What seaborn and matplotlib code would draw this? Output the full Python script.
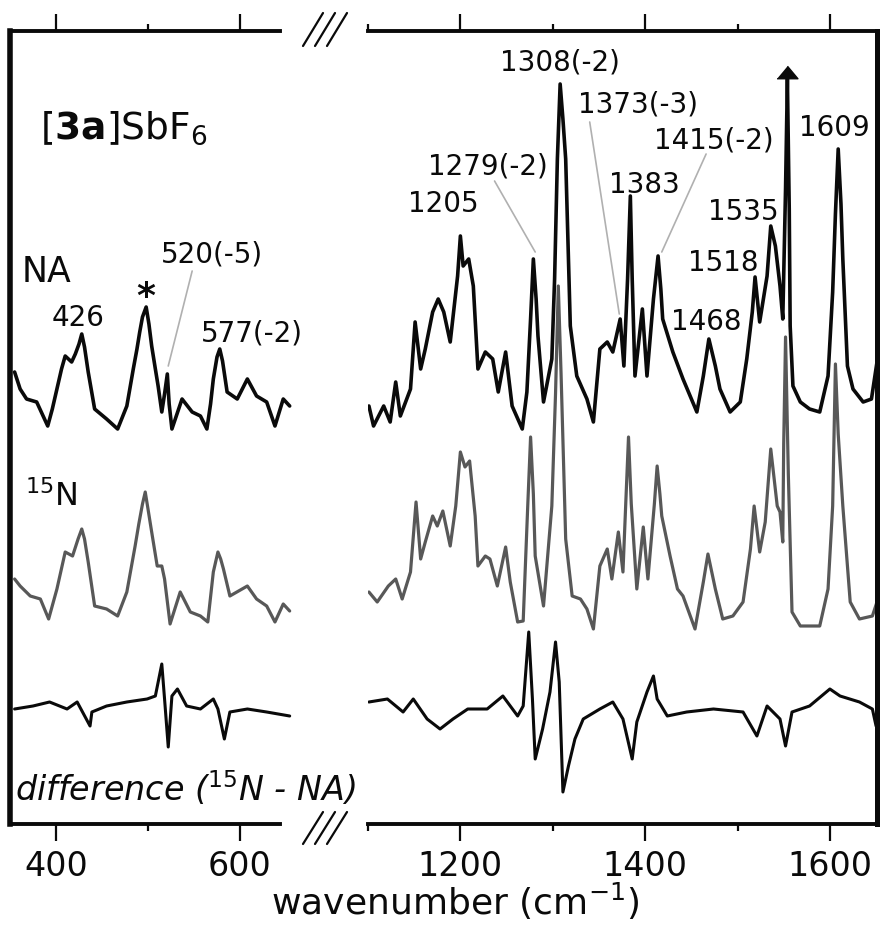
import numpy as np
import pandas as pd
import seaborn as sns
import matplotlib.pyplot as plt
from matplotlib.lines import Line2D

sns.set_style('white')
plt.rcParams['font.family'] = ['DejaVu Sans']
plt.rcParams['mathtext.fontset'] = 'dejavusans'

# ---- spectra (wavenumber / cm-1, intensity above baseline) ----
# low-frequency window
na_lo_x = [355, 361, 368, 379, 391, 396, 401, 406, 410, 417, 421, 425, 428, 431, 435, 442,
           455, 467, 477, 484, 488, 491, 494, 498, 501, 504, 508, 511, 515, 518, 521, 523,
           526, 537, 548, 557, 564, 568, 571, 575, 578, 581, 586, 597, 608, 618, 629, 638,
           647, 654]
na_lo_y = [57, 40, 30, 27, 3, 20, 40, 60, 73, 67, 75, 85, 95, 82, 57, 20,
           10, 0, 23, 60, 80, 97, 112, 122, 105, 83, 60, 43, 17, 35, 55, 25,
           0, 30, 17, 13, 0, 25, 50, 72, 80, 68, 37, 30, 50, 33, 27, 3,
           30, 23]

n15_lo_x = [355, 361, 372, 383, 392, 401, 410, 418, 424, 428, 431, 435, 442, 455, 467, 477,
            486, 490, 494, 497, 500, 504, 510, 515, 518, 524, 535, 546, 557, 565, 571, 576,
            579, 582, 589, 608, 618, 629, 638, 647, 654]
n15_lo_y = [45, 38, 28, 25, 5, 35, 72, 68, 85, 95, 85, 62, 18, 15, 8, 32,
            78, 100, 120, 132, 115, 92, 58, 58, 45, 0, 32, 12, 8, 2, 52, 72,
            65, 55, 28, 38, 25, 18, 2, 20, 13]

diff_lo_x = [355, 375, 393, 412, 423, 437, 439, 455, 477, 499, 508, 515, 518, 522, 526, 532,
             542, 557, 571, 576, 583, 589, 608, 629, 654]
diff_lo_y = [3, 6, 10, 3, 10, -14, 0, 6, 10, 13, 16, 48, 13, -35, 16, 23,
             6, 3, 13, 3, -27, 0, 3, 0, -4]

# high-frequency window
na_hi_x = [1101, 1106, 1117, 1124, 1130, 1135, 1146, 1151, 1157, 1162, 1170, 1176, 1182, 1189,
           1197, 1200, 1203, 1209, 1214, 1219, 1227, 1235, 1241, 1249, 1256, 1267, 1272, 1276,
           1279, 1282, 1284, 1290, 1299, 1302, 1305, 1308, 1311, 1314, 1319, 1326, 1337, 1344,
           1351, 1359, 1365, 1373, 1377, 1381, 1384, 1386, 1389, 1397, 1402, 1409, 1414, 1417,
           1419, 1430, 1441, 1456, 1463, 1469, 1476, 1481, 1492, 1503, 1510, 1516, 1519, 1524,
           1532, 1536, 1541, 1546, 1549, 1552, 1554, 1556, 1557, 1560, 1568, 1578, 1589, 1598,
           1603, 1606, 1609, 1612, 1614, 1619, 1625, 1636, 1645, 1651]
na_hi_y = [23, 3, 23, 7, 47, 13, 40, 107, 60, 80, 117, 130, 117, 87,
           153, 193, 163, 170, 143, 60, 77, 70, 37, 77, 23, 0, 37, 110,
           170, 130, 93, 27, 70, 150, 270, 345, 310, 270, 103, 53, 30, 7,
           80, 87, 77, 110, 63, 150, 233, 150, 53, 120, 53, 130, 173, 140,
           110, 77, 50, 17, 53, 90, 63, 40, 17, 27, 70, 117, 152, 107,
           153, 203, 183, 143, 110, 240, 350, 220, 103, 43, 27, 20, 17, 53,
           137, 215, 280, 225, 170, 63, 40, 27, 30, 67]

n15_hi_x = [1101, 1110, 1122, 1130, 1137, 1146, 1152, 1157, 1162, 1170, 1175, 1181, 1189, 1195,
            1200, 1205, 1210, 1216, 1219, 1227, 1232, 1240, 1249, 1254, 1262, 1268, 1273, 1276,
            1279, 1281, 1290, 1299, 1303, 1306, 1309, 1314, 1321, 1330, 1337, 1344, 1351, 1359,
            1364, 1371, 1376, 1379, 1382, 1385, 1391, 1398, 1403, 1410, 1413, 1416, 1418, 1427,
            1435, 1441, 1454, 1463, 1468, 1476, 1484, 1495, 1506, 1514, 1518, 1524, 1530, 1536,
            1543, 1546, 1549, 1550, 1552, 1555, 1559, 1568, 1589, 1598, 1603, 1606, 1609, 1614,
            1622, 1632, 1646, 1651]
n15_hi_y = [32, 22, 38, 45, 25, 52, 122, 65, 82, 108, 98, 113, 78, 118,
            172, 157, 163, 108, 58, 68, 65, 38, 77, 42, 2, 3, 120, 187,
            130, 68, 18, 118, 230, 338, 250, 85, 28, 25, 15, -5, 58, 75,
            45, 92, 52, 120, 187, 120, 35, 97, 45, 120, 158, 130, 108, 68,
            35, 28, -5, 42, 70, 35, 5, 8, 22, 75, 118, 72, 102, 175,
            118, 112, 82, 180, 287, 150, 12, -2, -2, 35, 118, 260, 190, 118,
            22, 5, 8, 22]

diff_hi_x = [1101, 1121, 1138, 1149, 1164, 1178, 1192, 1208, 1229, 1246, 1262, 1268, 1274, 1278,
             1281, 1289, 1297, 1303, 1307, 1311, 1317, 1324, 1333, 1351, 1365, 1376, 1386, 1391,
             1402, 1409, 1413, 1424, 1445, 1474, 1506, 1521, 1532, 1546, 1552, 1559, 1578, 1600,
             1611, 1632, 1646, 1650]
diff_hi_y = [10, 13, 0, 13, -7, -17, -7, 3, 3, 16, -4, 6, 80, 13,
             -47, -17, 20, 70, 30, -80, -54, -27, -7, 3, 10, -7, -47, -10,
             20, 36, 13, -4, 0, 3, 0, -24, 6, -7, -34, 0, 6, 23,
             16, 10, 3, -14]

# vertical stacking of the three traces
na_off, n15_off, diff_off = 395, 200, 112

BLACK = '#0a0a0a'
GREY = '#585858'
LEAD = '#b0b0b0'

fig = plt.figure(figsize=(8.85, 9.28), dpi=100)
W, H = 885.0, 928.0
ax_l = fig.add_axes([10 / W, 103 / H, 285.2 / W, 793 / H])
ax_r = fig.add_axes([368 / W, 103 / H, 509 / W, 793 / H])

panels = [(ax_l, na_lo_x, na_lo_y, n15_lo_x, n15_lo_y, diff_lo_x, diff_lo_y),
          (ax_r, na_hi_x, na_hi_y, n15_hi_x, n15_hi_y, diff_hi_x, diff_hi_y)]
for ax, nx, ny, ix, iy, dx, dy in panels:
    sns.lineplot(x=nx, y=np.array(ny) + na_off, ax=ax, color=BLACK, lw=2.6,
                 estimator=None, sort=False)
    sns.lineplot(x=ix, y=np.array(iy) + n15_off, ax=ax, color=GREY, lw=2.3,
                 estimator=None, sort=False)
    sns.lineplot(x=dx, y=np.array(dy) + diff_off, ax=ax, color=BLACK, lw=2.2,
                 estimator=None, sort=False)
    ax.set_ylim(0, 793)
    ax.set_yticks([])
    ax.set_ylabel('')
    ax.set_xlabel('')
    ax.tick_params(axis='x', which='both', direction='out', top=True, bottom=True,
                   labeltop=False, labelsize=24, pad=6, width=1.6, color=BLACK,
                   labelcolor=BLACK)
    ax.tick_params(axis='x', which='major', length=12)
    ax.tick_params(axis='x', which='minor', length=5)
    for s in ['top', 'bottom']:
        ax.spines[s].set_linewidth(2.8)
        ax.spines[s].set_color(BLACK)

ax_l.set_xlim(350, 660)
ax_l.set_xticks([400, 600])
ax_l.set_xticks([500], minor=True)
ax_l.spines['right'].set_visible(False)
ax_l.spines['left'].set_linewidth(4)
ax_l.spines['left'].set_color(BLACK)
ax_l.spines['top'].set_bounds(350, 643)
ax_l.spines['bottom'].set_bounds(350, 643)

ax_r.set_xlim(1100, 1651)
ax_r.set_xticks([1200, 1400, 1600])
ax_r.set_xticks([1100, 1300, 1500], minor=True)
ax_r.spines['left'].set_visible(False)
ax_r.spines['right'].set_linewidth(3.6)
ax_r.spines['right'].set_color(BLACK)

# truncated peak marker
i_top = int(np.argmax(na_hi_y))
ax_r.plot(na_hi_x[i_top], na_off + na_hi_y[i_top] + 7, marker=[(-1, -0.6), (1, -0.6), (0, 0.6)],
          ms=15, color=BLACK, clip_on=False)

# peak labels
lab = 20
for txt, x, y in [('426', 424, 507), ('577(-2)', 613, 491), ('520(-5)', 570, 570)]:
    ax_l.text(x, y, txt, ha='center', va='center', fontsize=lab, color=BLACK)
ax_l.text(497, 528, '*', ha='center', va='center', fontsize=26, fontweight='bold', color=BLACK)
ax_l.plot([548, 522], [553, 458], color=LEAD, lw=1.2)

for txt, x, y in [('1205', 1182, 621), ('1279(-2)', 1230, 658), ('1308(-2)', 1308, 762),
                  ('1373(-3)', 1392, 720), ('1383', 1399, 640), ('1415(-2)', 1474, 684),
                  ('1468', 1466, 503), ('1518', 1485, 562), ('1535', 1506, 613),
                  ('1609', 1605, 697)]:
    ax_r.text(x, y, txt, ha='center', va='center', fontsize=lab, color=BLACK)
for (x0, y0), (x1, y1) in [((1237, 643), (1281, 572)), ((1340, 702), (1372, 510)),
                           ((1466, 670), (1418, 572))]:
    ax_r.plot([x0, x1], [y0, y1], color=LEAD, lw=1.2)

# trace names
ax_l.text(383, 697, r'[$\mathbf{3a}$]SbF$_6$', ha='left', va='center', fontsize=27, color=BLACK)
ax_l.text(363, 553, 'NA', ha='left', va='center', fontsize=25, color=BLACK)
ax_l.text(366, 328, r'$^{15}$N', ha='left', va='center', fontsize=23, color=BLACK)
ax_l.text(355, 36, 'difference (' + r'$\mathit{^{15}}$' + 'N - NA)', ha='left', va='center',
          fontsize=24, fontstyle='italic', color=BLACK, clip_on=False)

fig.text(455 / W, 1 - 915 / H, r'wavenumber (cm$^{-1}$)', ha='center', va='baseline',
         fontsize=26, color=BLACK)

# axis break marks
for py0, py1 in [(47, 14), (845, 813)]:
    for px in (303, 315, 327):
        fig.add_artist(Line2D([px / W, (px + 20) / W], [1 - py0 / H, 1 - py1 / H],
                              color=BLACK, lw=1.6))

fig.savefig('out.png', dpi=100)
